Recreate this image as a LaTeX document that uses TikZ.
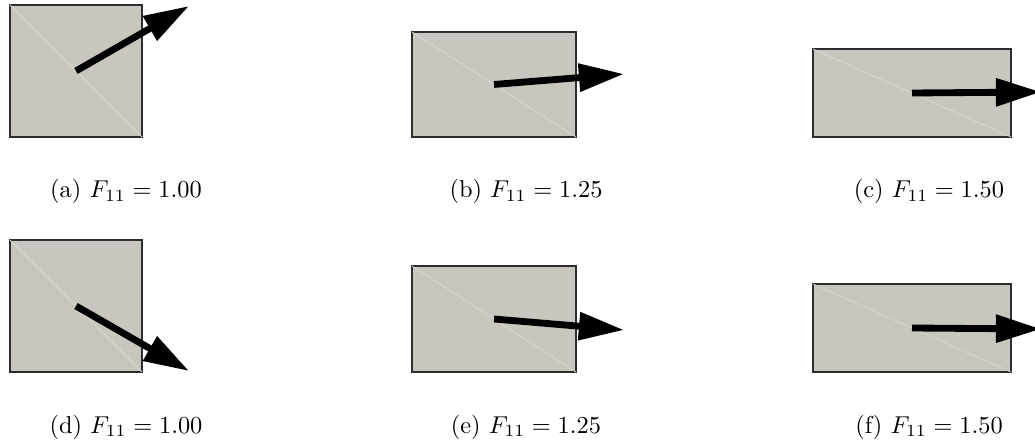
\documentclass[tikz,border=0pt]{standalone}
\usepackage{amsmath}
\usepackage{tikz}
\usetikzlibrary{arrows.meta, fit}
\usepackage{xcolor}
\definecolor{solid}{RGB}{200, 198, 190}
\definecolor{edge}{RGB}{45, 45, 45}
\definecolor{seam}{RGB}{218, 216, 210}

\begin{document}
\begin{tikzpicture}[
    x=0.41pt, y=-0.41pt,
    cell/.style={draw=edge, fill=solid, line width=0.5pt, inner sep=0pt, outer sep=0pt},
    seamline/.style={draw=seam, line width=0.3pt},
    force/.style={-{Triangle[length=18.5pt, width=11pt]}, line width=2.8pt, draw=black},
    subcap/.style={anchor=base, inner sep=0pt}
]
    \useasboundingbox (0,0) rectangle (1035,444);
    \clip (0,0) rectangle (1035,444);

    % top row
    \node[cell, fit={(10,5) (142,137)}] (boxa) {};
    \node[cell, fit={(412,32) (576,137)}] (boxb) {};
    \node[cell, fit={(813,49) (1011,137)}] (boxc) {};
    \draw[seamline] (boxa.north west) -- (boxa.south east);
    \draw[seamline] (boxb.north west) -- (boxb.south east);
    \draw[seamline] (boxc.north west) -- (boxc.south east);

    \coordinate (tipa) at (189,6);
    \coordinate (tipb) at (624,74);
    \coordinate (tipc) at (1041,92);
    \draw[force] (boxa.center) -- (tipa);
    \draw[force] (boxb.center) -- (tipb);
    \draw[force] (boxc.center) -- (tipc);

    \node[subcap] (capa) at (126,198) {(a)~$F_{11} = 1.00$};
    \node[subcap] (capb) at (526,198) {(b)~$F_{11} = 1.25$};
    \node[subcap] (capc) at (929,198) {(c)~$F_{11} = 1.50$};

    % bottom row
    \node[cell, fit={(10,240) (142,372)}] (boxd) {};
    \node[cell, fit={(412,266) (576,372)}] (boxe) {};
    \node[cell, fit={(813,284) (1011,372)}] (boxf) {};
    \draw[seamline] (boxd.north west) -- (boxd.south east);
    \draw[seamline] (boxe.north west) -- (boxe.south east);
    \draw[seamline] (boxf.north west) -- (boxf.south east);

    \coordinate (tipd) at (189,371);
    \coordinate (tipe) at (624,330);
    \coordinate (tipf) at (1041,329);
    \draw[force] (boxd.center) -- (tipd);
    \draw[force] (boxe.center) -- (tipe);
    \draw[force] (boxf.center) -- (tipf);

    \node[subcap] (capd) at (126,433) {(d)~$F_{11} = 1.00$};
    \node[subcap] (cape) at (526,433) {(e)~$F_{11} = 1.25$};
    \node[subcap] (capf) at (929,433) {(f)~$F_{11} = 1.50$};
\end{tikzpicture}
\end{document}
